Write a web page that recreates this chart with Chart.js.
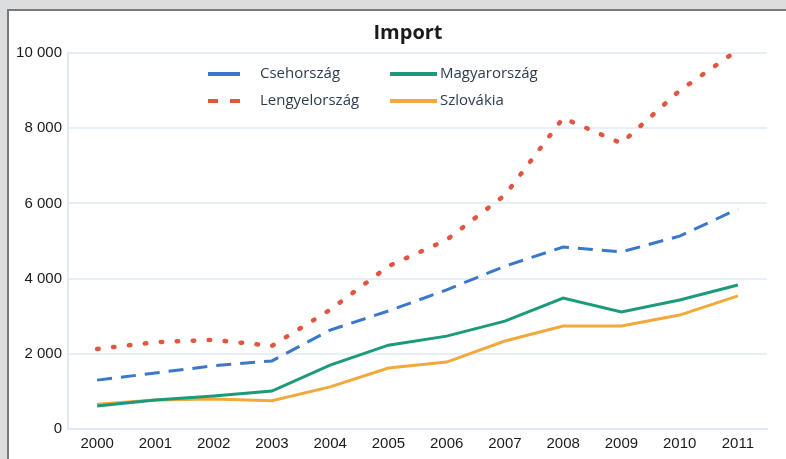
<!DOCTYPE html>
<html>
<head>
<meta charset="utf-8">
<script src="https://cdn.jsdelivr.net/npm/chart.js@4.4.1/dist/chart.umd.min.js"></script>
<style>
  html, body { margin: 0; padding: 0; background: #dcdddf; overflow: hidden; }
  #panel {
    position: absolute; left: 7px; top: 9px; width: 790px; height: 460px;
    background: #fff; border-left: 2px solid #7a7a7a; border-top: 2px solid #7a7a7a;
  }
  #chart { display: block; }
</style>
</head>
<body>
<div id="panel"><canvas id="chart" width="777" height="448"></canvas></div>
<script>
// Datos (millones de euros aprox.)
const years = ['2000', '2001', '2002', '2003', '2004', '2005', '2006', '2007', '2008', '2009', '2010', '2011'];
const csehorszag = [1300, 1490, 1680, 1810, 2630, 3140, 3700, 4330, 4840, 4710, 5130, 5850];
const lengyelorszag = [2130, 2310, 2370, 2210, 3170, 4330, 5030, 6220, 8270, 7600, 9000, 10080];
const magyarorszag = [610, 770, 880, 1010, 1700, 2230, 2470, 2870, 3480, 3110, 3430, 3830];
const szlovakia = [660, 770, 800, 750, 1120, 1620, 1780, 2340, 2740, 2740, 3030, 3540];
const yTicks = [0, 2000, 4000, 6000, 8000, 10000];

const colores = {
  cseh: '#3a78c9',
  lengyel: '#e2553f',
  magyar: '#1b9a7c',
  szlovak: '#f2a93b'
};

// Leyenda en 2 columnas, dibujada a mano
const leyenda = [
  { text: 'Csehország', color: colores.cseh, dash: [], x: 199, y: 63 },
  { text: 'Lengyelország', color: colores.lengyel, dash: [10, 12], x: 199, y: 90 },
  { text: 'Magyarország', color: colores.magyar, dash: [], x: 381, y: 63 },
  { text: 'Szlovákia', color: colores.szlovak, dash: [], x: 381, y: 90 }
];

const tituloYLeyenda = {
  id: 'tituloYLeyenda',
  afterDraw(chart) {
    const ctx = chart.ctx;
    ctx.save();
    ctx.fillStyle = '#1a1a1a';
    ctx.font = 'bold 20px "Open Sans"';
    ctx.textAlign = 'center';
    ctx.textBaseline = 'middle';
    ctx.fillText('Import', 399, 22);

    ctx.font = '15px "Open Sans"';
    ctx.textAlign = 'left';
    leyenda.forEach(item => {
      const w = item.x === 199 ? 32 : 47;
      ctx.strokeStyle = item.color;
      ctx.lineWidth = 4;
      ctx.setLineDash(item.dash);
      ctx.beginPath();
      ctx.moveTo(item.x, item.y);
      ctx.lineTo(item.x + w, item.y);
      ctx.stroke();
      ctx.setLineDash([]);
      ctx.fillStyle = '#2b3d4f';
      ctx.fillText(item.text, item.x === 199 ? 251 : 431, item.y);
    });
    ctx.restore();
  }
};

function serie(label, data, color, dash, cap, width) {
  return {
    label: label,
    data: data,
    borderColor: color,
    backgroundColor: color,
    borderWidth: width,
    borderDash: dash,
    borderCapStyle: cap,
    pointRadius: 0,
    tension: 0,
    fill: false
  };
}

new Chart(document.getElementById('chart'), {
  type: 'line',
  data: {
    labels: years,
    datasets: [
      serie('Csehország', csehorszag, colores.cseh, [15, 9], 'butt', 3),
      serie('Lengyelország', lengyelorszag, colores.lengyel, [1.5, 14.5], 'round', 4.5),
      serie('Magyarország', magyarorszag, colores.magyar, [], 'butt', 3),
      serie('Szlovákia', szlovakia, colores.szlovak, [], 'butt', 3)
    ]
  },
  options: {
    responsive: false,
    animation: false,
    layout: { padding: { top: 42, right: 19, bottom: 0, left: 0 } },
    plugins: {
      legend: { display: false },
      title: { display: false },
      tooltip: { enabled: false }
    },
    scales: {
      x: {
        offset: true,
        grid: { display: false, drawTicks: false },
        border: { color: '#dfeaf4', width: 2 },
        ticks: {
          color: '#1a1a1a',
          font: { family: '"Liberation Sans", Arial', size: 15 },
          padding: 6,
          maxRotation: 0
        },
        afterFit(scale) { scale.height = 30; }
      },
      y: {
        min: 0,
        max: 10000,
        afterBuildTicks(scale) { scale.ticks = yTicks.map(v => ({ value: v })); },
        grid: { color: '#e6eff7', lineWidth: 2, drawTicks: false },
        border: { color: '#dfeaf4', width: 2 },
        ticks: {
          color: '#1a1a1a',
          font: { family: '"Liberation Sans", Arial', size: 15 },
          padding: 6,
          callback: v => v.toLocaleString('en-US').replace(/,/g, ' ')
        },
        afterFit(scale) { scale.width = 59; }
      }
    }
  },
  plugins: [tituloYLeyenda]
});
</script>
</body>
</html>
